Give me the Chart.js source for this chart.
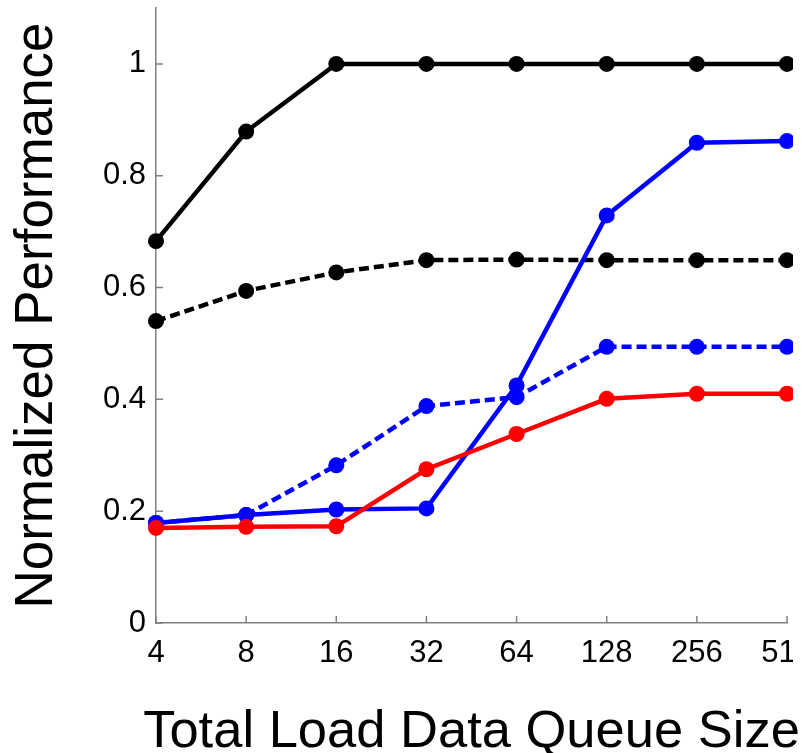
<!DOCTYPE html>
<html>
<head>
<meta charset="utf-8">
<script src="https://cdn.jsdelivr.net/npm/chart.js@4.4.1/dist/chart.umd.min.js"></script>
<style>
  html, body { margin: 0; padding: 0; background: #fff; overflow: hidden; }
  #wrap { width: 840px; height: 753px; }
</style>
</head>
<body>
<div id="wrap"><canvas id="chart"></canvas></div>
<script>
const QUEUE_SIZES = ["4", "8", "16", "32", "64", "128", "256", "512"];
const Y_TICKS = [0, 0.2, 0.4, 0.6, 0.8, 1];
const X_TITLE = "Total Load Data Queue Size";
const Y_TITLE = "Normalized Performance";

const blackSolid = [0.683, 0.879, 1.0, 1.0, 1.0, 1.0, 1.0, 1.0];
const blackDashed = [0.540, 0.594, 0.627, 0.649, 0.650, 0.649, 0.649, 0.649];
const blueSolid = [0.179, 0.193, 0.203, 0.205, 0.425, 0.729, 0.859, 0.862];
const blueDashed = [0.179, 0.193, 0.282, 0.388, 0.404, 0.494, 0.494, 0.494];
const redSolid = [0.170, 0.172, 0.173, 0.275, 0.338, 0.401, 0.410, 0.410];

const FONT = "'Liberation Sans', Arial, sans-serif";
const AXIS_GRAY = "#808080";
const CROP_X = 793; // the source figure is cut off here

function series(data, color, dashed) {
  return {
    data: data,
    borderColor: color,
    backgroundColor: color,
    borderWidth: 4.5,
    borderDash: dashed ? [10, 5] : [],
    pointRadius: 8,
    pointBorderWidth: 0,
    tension: 0,
    clip: { left: false, top: false, bottom: false, right: 6 },
  };
}

// matlab-style ticks pointing into the plot, plus the x title
// (scale titles get squeezed to the chart-area width, so it is drawn here)
const axisExtras = {
  id: "axisExtras",
  beforeDatasetsDraw(chart) {
    const { ctx, chartArea, scales } = chart;
    ctx.save();
    ctx.strokeStyle = AXIS_GRAY;
    ctx.lineWidth = 1.5;
    ctx.beginPath();
    scales.x.ticks.forEach((t, i) => {
      const px = scales.x.getPixelForTick(i);
      ctx.moveTo(px, chartArea.bottom);
      ctx.lineTo(px, chartArea.bottom - 7);
    });
    scales.y.ticks.forEach((t, i) => {
      const py = scales.y.getPixelForTick(i);
      ctx.moveTo(chartArea.left, py);
      ctx.lineTo(chartArea.left + 7, py);
    });
    ctx.stroke();
    ctx.restore();
  },
  afterDraw(chart) {
    const { ctx, chartArea } = chart;
    ctx.save();
    // the last tick label is cropped in the source image
    ctx.fillStyle = "#fff";
    ctx.fillRect(CROP_X, chartArea.bottom + 3, chart.width - CROP_X, 62);
    ctx.fillStyle = "#000";
    ctx.font = "52.5px " + FONT;
    ctx.textAlign = "center";
    ctx.textBaseline = "alphabetic";
    ctx.fillText(X_TITLE, (chartArea.left + chartArea.right) / 2, 747);
    ctx.restore();
  },
};

function noEdgePadding(scale) {
  scale.paddingTop = 0;
  scale.paddingBottom = 0;
  scale.paddingLeft = 0;
  scale.paddingRight = 0;
}

new Chart(document.getElementById("chart"), {
  type: "line",
  data: {
    labels: QUEUE_SIZES,
    datasets: [
      series(redSolid, "#ff0000", false),
      series(blueDashed, "#0000ff", true),
      series(blueSolid, "#0000ff", false),
      series(blackDashed, "#000000", true),
      series(blackSolid, "#000000", false),
    ],
  },
  options: {
    responsive: true,
    maintainAspectRatio: false,
    animation: false,
    layout: { padding: { top: 8, right: 53, left: 6, bottom: 0 } },
    plugins: { legend: { display: false }, tooltip: { enabled: false } },
    scales: {
      x: {
        offset: false,
        grid: { display: false, drawTicks: false },
        border: { display: true, color: AXIS_GRAY, width: 1.5 },
        ticks: {
          autoSkip: false,
          maxRotation: 0,
          padding: 12,
          color: "#000",
          font: { family: FONT, size: 31 },
        },
        title: { display: false },
        afterFit: (scale) => {
          noEdgePadding(scale);
          scale.height = 130;
        },
      },
      y: {
        min: 0,
        max: 1.1,
        grid: { display: false, drawTicks: false },
        border: { display: true, color: AXIS_GRAY, width: 1.5 },
        afterBuildTicks: (scale) => {
          scale.ticks = Y_TICKS.map((v) => ({ value: v }));
        },
        ticks: {
          padding: 10,
          color: "#000",
          font: { family: FONT, size: 31 },
          callback: (v) => String(Math.round(v * 10) / 10),
        },
        title: {
          display: true,
          text: Y_TITLE,
          color: "#000",
          font: { family: FONT, size: 53 },
          padding: { top: 0, bottom: 0 },
        },
        afterFit: (scale) => {
          noEdgePadding(scale);
          scale.width = 150;
        },
      },
    },
  },
  plugins: [axisExtras],
});
</script>
</body>
</html>
